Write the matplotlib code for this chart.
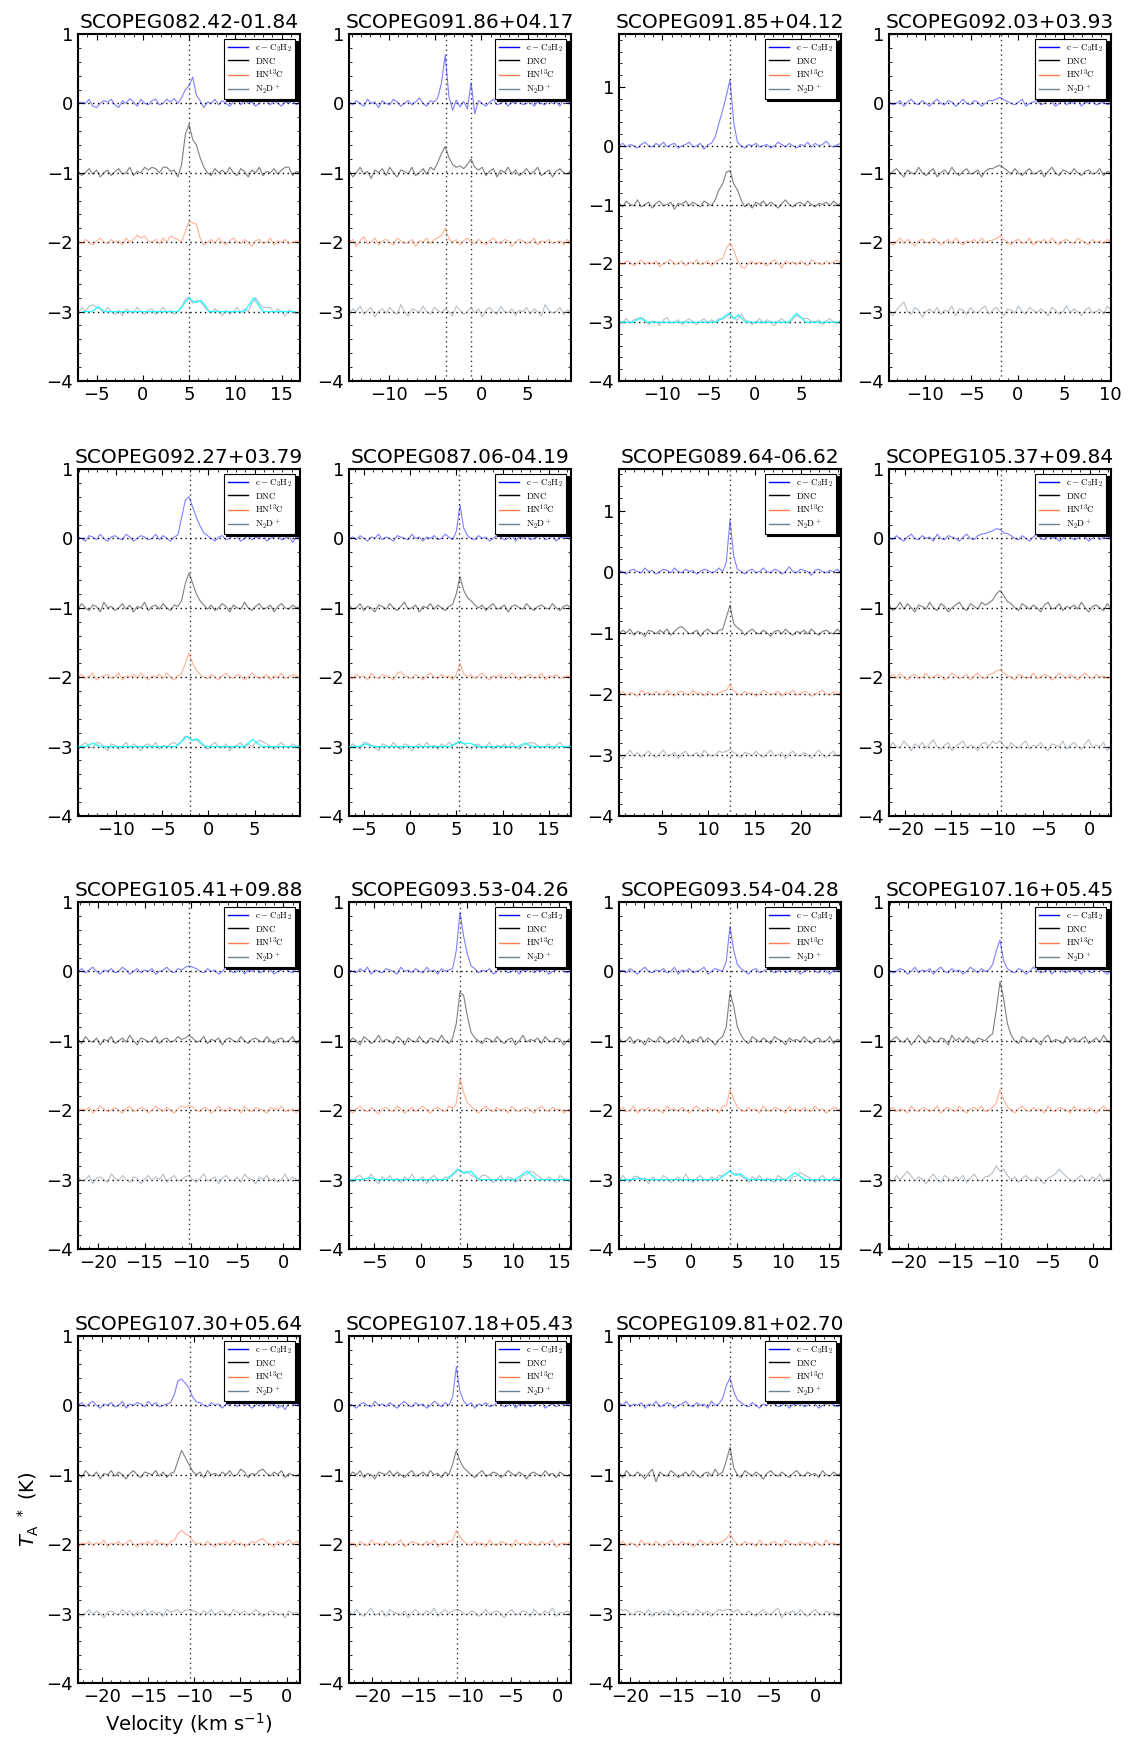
import numpy as np
import matplotlib
matplotlib.use('Agg')
import matplotlib.pyplot as plt
from matplotlib.lines import Line2D
from matplotlib.ticker import MultipleLocator
from matplotlib.font_manager import FontProperties

# sources, in panel order
NAMES = ['SCOPEG082.42-01.84', 'SCOPEG091.86+04.17', 'SCOPEG091.85+04.12', 'SCOPEG092.03+03.93',
         'SCOPEG092.27+03.79', 'SCOPEG087.06-04.19', 'SCOPEG089.64-06.62', 'SCOPEG105.37+09.84',
         'SCOPEG105.41+09.88', 'SCOPEG093.53-04.26', 'SCOPEG093.54-04.28', 'SCOPEG107.16+05.45',
         'SCOPEG107.30+05.64', 'SCOPEG107.18+05.43', 'SCOPEG109.81+02.70']
V_CENTER = [5.0, -2.3, -2.7, -1.9, -2.1, 5.4, 12.35, -9.7,
            -10.2, 4.25, 4.25, -10.1, -10.55, -10.5, -9.2]
V_LINES = [[5.0], [-3.8, -1.1], [-2.7], [-1.8], [-2.0], [5.3], [12.35], [-9.6],
           [-10.2], [4.2], [4.3], [-10.0], [-10.45], [-10.8], [-9.2]]
Y_TOP = [1, 1, 1.9, 1, 1, 1, 1.68, 1, 1, 1, 1, 1, 1, 1, 1]

# spectra in units of 0.01 K, 0.4 km/s channels starting at V_CENTER - 12
P1_CC = [0, 2, 0, 6, -4, -6, 0, 4, 2, 6, -2, -6, 4, 0, 7, 2, -4, 6, 0, -2,
         4, 6, -2, 0, 6, 2, 7, 0, 8, 20, 25, 38, 12, 4, -6, 2, 0, 6, -2, 4,
         0, -4, 2, 6, -2, 4, 0, 2, -4, 0, 6, 2, -2, 4, 0, -4, 2, 0, 4, -2, 2]
P1_DNC = [2, -4, 0, 6, -2, 4, -6, 0, 4, -4, 2, 6, -2, 0, 8, -4, 2, 0, 8, 4,
          8, 6, 0, 8, 8, 2, 4, -6, 12, 55, 70, 48, 40, 22, 8, 0, -4, 6, 0, 4,
          -2, 8, 0, -4, 6, 2, -6, 4, 0, 8, -4, 2, 0, 6, -2, 4, 8, 8, -4, 2, 0]
P1_HN = [0, -2, 4, 0, -4, 2, 6, 0, -2, 4, 0, 2, -4, 6, 0, 4, 10, 6, 9, 2,
         0, 4, -2, 6, 0, 9, 6, 4, 0, 15, 30, 28, 26, 6, -4, 0, 4, -2, 6, 0,
         -4, 2, 6, 0, -2, 4, 0, -6, 2, 4, -2, 0, 6, -4, 2, 0, 4, -2, 0, 2, 0]
P1_ND = [-4, 6, 0, 8, 10, 6, 4, -2, 6, 0, -4, 2, -6, 4, 0, -2, 6, 0, -4, 2,
         4, -4, 0, 6, -2, 2, -4, 0, 6, 18, 20, 12, 16, 15, 8, 2, -2, 4, 0, -6,
         2, -4, 0, 6, -2, 4, 0, 12, 20, 12, 6, 6, 6, -2, 4, 0, -6, 2, 0, -4, 0]

P2_CC = [2, -2, 4, 0, -4, 6, 0, 2, -6, 4, 0, -2, 6, 2, -4, 0, 4, -2, 2, 8,
         0, -4, 4, 2, 8, 30, 70, 10, -10, 5, -5, 3, -8, 30, -15, 4, 0, -4, 2, 6,
         -2, 0, 4, -4, 2, 0, 6, -2, 0, 4, -4, 2, 0, -2, 4, 0, 2, -4, 6, 0, 2]
P2_DNC = [4, -6, 0, 8, -2, 2, -8, 4, 0, 6, -4, 8, 0, -6, 4, 2, -2, 8, -4, 0,
          6, -2, 8, 4, 15, 28, 38, 22, 12, 8, 10, 6, 12, 20, 8, 4, 8, -4, 2, 6,
          -6, 4, 0, 8, -2, 4, -4, 0, 6, -2, 2, 8, -4, 0, 4, -6, 2, 6, 0, -2, 4]
P2_HN = [0, 4, -6, 2, 8, -2, 0, 6, -4, 2, 4, 0, -4, 6, 2, -2, 0, 4, -6, 2,
         0, 6, -2, 4, 6, 10, 20, 5, 0, 4, -4, 2, 6, 0, -2, 4, 0, -4, 2, 6,
         0, -2, 4, 2, -6, 0, 4, 2, -2, 0, 6, -4, 2, 0, 4, -2, 0, 2, -4, 4, 0]
P2_ND = [-6, 4, 0, 8, -4, 2, 6, -8, 0, 4, -2, 6, 0, -4, 10, 0, -6, 4, 2, -2,
         8, 0, -4, 6, 2, -2, 4, 0, -6, 8, 2, -4, 0, 6, -2, 4, -8, 2, 6, 0,
         -4, 8, 0, -2, 4, -6, 2, 0, 6, -4, 4, 0, -6, 10, 2, -2, 0, 6, -4, 2, 0]

P3_CC = [0, 4, -2, 2, 0, -4, 2, 6, 0, -2, 4, 0, 6, -2, 2, 4, -4, 0, 2, 6,
         -2, 0, 4, -6, 2, 4, 15, 38, 60, 85, 112, 40, 6, 0, -4, 2, 0, 4, -2, 0,
         2, -4, 0, 6, 2, -2, 4, 0, -4, 2, 0, 6, -2, 4, 0, 2, 8, 0, -2, 2, 4]
P3_DNC = [2, -4, 6, 0, -2, 8, -4, 0, 4, -6, 2, 6, -2, 0, 4, -8, 2, 0, 6, -2,
          4, 0, -4, 6, 2, -2, 8, 25, 35, 55, 58, 35, 25, 8, -4, 2, -6, 4, 0, 6,
          -2, 4, 0, -6, 2, 8, 0, -4, 2, 4, -2, 6, 0, -4, 2, 0, 4, -2, 6, 0, 2]
P3_HN = [0, -2, 4, 2, -4, 0, 6, -2, 2, 0, 4, -6, 0, 2, 6, -2, 0, 4, -4, 2,
         0, 6, -2, 0, 4, -4, 2, 6, 8, 25, 35, 22, 5, -6, -8, 0, 4, -2, 2, 0,
         -4, 2, 6, 0, -8, 4, 0, 2, -2, 4, 0, -4, 6, 2, 0, -2, 4, 0, 2, 6, 0]
P3_ND = [-4, 0, 6, -2, 4, 6, 8, 4, -4, 2, 0, -6, 4, 8, -2, 0, 4, -4, 2, 6,
         0, -4, 2, 6, -2, 4, 0, 6, 5, 9, 15, 8, 3, 14, 4, 2, -4, 0, 6, -2,
         4, 0, -6, 2, 6, 0, -2, 5, 12, 8, 6, 6, 2, 0, 4, -4, 2, 6, 0, -2, 4]

P4_CC = [2, -2, 0, 4, -4, 2, 6, 0, -2, 4, 0, -4, 2, 6, 0, -2, 4, 2, -4, 0,
         6, 0, -2, 4, 2, -4, 0, 4, 4, 6, 9, 5, 3, 0, -2, 2, 6, -4, 0, 2,
         4, -2, 0, 6, 2, -4, 0, 4, -2, 2, 0, 6, -4, 2, 0, 4, -2, 0, 2, -2, 0]
P4_DNC = [-4, 2, 6, 0, -6, 4, 0, -2, 8, 0, -4, 2, 6, -6, 0, 4, -2, 8, 0, -4,
          2, 6, -2, 0, 4, -6, 2, 6, 6, 9, 11, 7, 3, -2, 6, 0, -4, 2, 6, -2,
          0, 4, -6, 2, 8, 0, -4, 4, 2, -2, 6, 0, -4, 2, 4, -2, 0, 6, -4, 2, 0]
P4_HN = [2, -4, 0, 6, -2, 4, 0, -6, 2, 4, 0, -2, 6, 2, -4, 0, 4, -2, 6, 0,
         -4, 2, 0, 4, -2, 6, 0, 2, 3, 5, 9, 4, 0, -4, 2, 4, -2, 0, 6, -4,
         2, 0, 4, -2, 6, 0, -4, 2, 4, 0, -2, 6, 2, 0, -4, 4, 0, 2, -2, 4, 0]
P4_ND = [4, -6, 2, 8, 14, 0, -4, 6, 2, -8, 0, 4, -2, 6, -4, 2, 0, 8, -6, 4,
         2, -4, 6, 0, -2, 4, 8, -4, 2, 6, 0, -6, 4, 2, -2, 8, 0, -4, 6, 2,
         -2, 4, 0, -6, 6, 2, -4, 0, 8, -2, 4, 0, -6, 2, 6, -2, 0, 4, -4, 8, 2]

P5_CC = [2, 0, -4, 4, 2, -2, 6, 0, -4, 2, 4, 0, -2, 6, 2, -4, 0, 4, 2, -2,
         0, 6, -2, 4, 0, -4, 2, 5, 30, 55, 60, 45, 30, 18, 8, 4, 0, -4, 2, 4,
         -2, 0, 6, 2, -4, 0, 4, -2, 2, 0, 6, -4, 0, 2, 4, -2, 0, 4, -6, 2, 0]
P5_DNC = [-2, 6, 0, -4, 4, 2, -6, 8, 0, 2, -4, 0, 6, -2, 4, -6, 2, 0, 8, -4,
          2, 4, -2, 6, 0, -4, 4, 2, 10, 35, 50, 35, 20, 10, 4, -2, 4, -4, 0, 6,
          2, -6, 4, 0, -2, 8, 0, -4, 2, 6, -2, 0, 4, -6, 2, 6, 0, -2, 4, 0, 2]
P5_HN = [0, 4, -2, 2, 6, -4, 0, 2, 4, -2, 0, 6, -4, 2, 0, 4, -2, 6, 0, -4,
         2, 0, 4, -2, 6, 0, -4, 2, 5, 20, 35, 20, 10, 4, 0, -2, 4, 0, -4, 2,
         6, 0, -2, 4, 2, -4, 0, 6, 2, -2, 0, 4, -4, 2, 0, 6, -2, 0, 4, 2, -2]
P5_ND = [-4, 2, 6, 0, -2, 6, 5, 0, -6, 4, 2, -4, 0, 6, -2, 4, 0, -6, 2, 4,
         0, 6, -4, 2, 0, 4, 6, 2, 8, 15, 12, 9, 10, 5, 0, -4, 2, 6, 0, -2,
         4, -6, 0, 2, 6, -2, 4, 0, 6, 9, 7, 4, 0, -4, 2, 6, 0, -2, 4, 0, 2]

P6_CC = [0, 2, -2, 4, 0, -4, 2, 0, 6, -2, 2, 0, -4, 4, 2, 0, -2, 6, 0, 2,
         -4, 2, 0, 4, -2, 0, 6, 2, -2, 10, 48, 15, 4, 0, -2, 4, 0, 2, -4, 0,
         4, 2, -2, 0, 6, -4, 2, 0, 4, -2, 0, 2, 6, -2, 0, 4, -4, 2, 0, 2, -2]
P6_DNC = [4, -2, 0, 6, -4, 2, 0, -6, 4, 2, -2, 6, 0, -4, 2, 8, -2, 0, 4, -6,
          2, 0, 6, -2, 4, 0, -4, 2, 5, 20, 45, 25, 15, 10, 4, 0, 4, -4, 2, 6,
          -2, 0, 4, -6, 2, 4, 0, -2, 6, 0, -4, 2, 4, 0, -2, 6, 0, -4, 2, 4, 0]
P6_HN = [0, -2, 4, 0, 2, -4, 6, 0, -2, 4, 2, 0, -4, 6, 8, 2, 0, -2, 4, 0,
         -4, 2, 6, 0, -2, 4, 0, 2, -4, 4, 20, 5, 0, 4, -2, 2, 6, 0, -4, 2,
         0, 4, -2, 0, 6, 2, -4, 0, 2, 4, -2, 0, 6, -4, 2, 0, 4, -2, 0, 2, 0]
P6_ND = [-2, 4, 0, -4, 6, 5, 2, 0, -6, 4, 2, -2, 6, 0, -4, 4, 2, -6, 0, 4,
         -2, 6, 0, 2, -4, 4, 0, 6, 2, 5, 8, 4, 0, -4, 2, 4, -2, 0, 6, -4,
         2, 0, 4, -2, 6, 0, -4, 2, 4, 6, 5, 2, -2, 0, 4, -4, 2, 6, 0, -2, 4]

P7_CC = [2, 0, -4, 2, 4, 0, -2, 6, 0, 2, -4, 0, 4, 2, -2, 6, 0, -2, 4, 0,
         2, -4, 0, 4, 2, -2, 0, 6, 0, 15, 85, 25, 4, 0, -4, 2, 4, -2, 0, 6,
         0, -2, 4, 2, -4, 0, 8, 0, -2, 4, 2, 0, -6, 2, 4, 0, -2, 2, 0, 4, -2]
P7_DNC = [-2, 4, 0, 6, -4, 2, 0, -6, 4, 2, -2, 4, 0, 6, -4, 2, 8, 10, 4, -2,
          0, 4, -6, 2, 6, 0, -2, 4, 5, 25, 45, 15, 8, 4, -4, 2, 6, 0, -2, 4,
          0, -6, 2, 4, -2, 6, 0, -4, 2, 0, 4, -2, 6, 0, -4, 2, 4, 0, -2, 6, 0]
P7_HN = [0, 4, -2, 2, 0, -4, 6, 0, 2, -2, 4, 0, -2, 6, 0, -4, 2, 4, 0, -2,
         6, 0, 2, -4, 4, 0, -2, 2, 4, 6, 15, 5, 0, -2, 4, 0, 2, -4, 0, 6,
         2, -2, 0, 4, -4, 2, 0, 6, -2, 0, 4, 2, -4, 0, 2, 6, 0, -2, 4, 0, 2]
P7_ND = [4, -6, 0, 8, -2, 4, -4, 2, 6, 0, -4, 2, 8, -2, 0, 4, -6, 2, 6, -2,
         0, 4, -4, 8, 2, -2, 0, 6, 4, 6, 9, 4, 0, -4, 4, 2, -2, 6, 0, -4,
         2, 8, -2, 0, 4, -6, 2, 6, 0, -2, 4, 0, -6, 2, 8, 0, -4, 2, 6, -2, 0]

P8_CC = [2, -2, 4, 0, -4, 2, 6, 0, -2, 4, 0, 2, -4, 6, 0, -2, 4, 2, 0, -4,
         2, 6, 0, -2, 4, 6, 7, 9, 11, 14, 13, 8, 7, 4, 0, -2, 4, 0, -4, 2,
         6, 0, -2, 4, 0, 2, -4, 0, 6, 2, -2, 0, 4, 2, -4, 0, 6, -2, 2, 0, 4]
P8_DNC = [4, -4, 0, 8, -2, 6, 0, -6, 4, 2, -2, 8, 0, -4, 6, 2, -6, 0, 4, 8,
          0, -4, 6, 2, -2, 8, 4, 7, 11, 20, 25, 18, 9, 6, 0, -4, 6, 2, -2, 4,
          0, -6, 4, 8, -2, 0, 6, -4, 2, 0, 4, -2, 8, 0, -6, 2, 4, 0, -4, 6, 0]
P8_HN = [0, 4, -2, 6, 0, -4, 2, 4, -2, 0, 6, -2, 0, 4, 2, -4, 0, 6, 2, -2,
         0, 4, -4, 2, 6, 0, -2, 4, 5, 9, 11, 6, 2, 0, -4, 4, 2, -2, 0, 6,
         -2, 0, 4, 2, -4, 0, 6, 2, -2, 4, 0, -4, 2, 6, 0, -2, 4, 0, 2, -2, 0]
P8_ND = [-4, 6, 0, -2, 8, 2, -6, 4, 0, 6, -2, 4, 10, 0, -4, 2, 6, -6, 0, 4,
         8, -2, 2, 0, -6, 4, 6, 0, 8, 4, 9, 2, -4, 6, 0, -2, 4, 8, -4, 2,
         0, 6, -2, -6, 4, 2, 0, 8, -4, 2, 6, 0, -4, 4, 10, -2, 2, 0, 6, -6, 2]

P9_CC = [0, 4, -2, 2, 6, 0, -4, 2, 0, 4, -2, 0, 6, 2, -4, 0, 4, -2, 2, 0,
         4, -4, 0, 2, 6, 0, -2, 4, 2, 6, 8, 6, 4, 0, -2, 4, 0, 2, -4, 0,
         6, 2, -2, 0, 4, -4, 2, 0, 6, -2, 0, 4, 2, -4, 0, 2, 6, 0, -2, 4, 0]
P9_DNC = [2, -4, 6, 0, -2, 4, -6, 2, 0, 6, -4, 0, 4, -2, 8, 0, -6, 4, 2, -2,
          0, 6, -4, 2, 4, -2, 0, 6, 2, 4, 8, 4, -2, 0, 6, -4, 2, 0, 4, -6,
          2, 4, 0, -2, 6, 0, -4, 2, 4, 0, -2, 6, 0, -4, 2, 4, -2, 0, 6, -4, 2]
P9_HN = [-2, 2, 0, 4, -4, 0, 6, 2, -2, 0, 4, 0, -4, 2, 6, -2, 0, 4, 2, -4,
         0, 6, 2, -2, 4, 0, -4, 2, 6, 4, 7, 5, 0, -2, 4, 2, -4, 0, 6, 0,
         -2, 4, 0, 2, -4, 6, 0, -2, 4, 2, 0, -4, 4, 2, 0, 6, -2, 0, 2, -4, 4]
P9_ND = [4, -2, 0, 6, -6, 2, 4, 0, -4, 8, 2, -2, 6, 0, -4, 4, 2, -6, 0, 6,
         -2, 4, 0, 8, -4, 2, 6, -2, 0, 4, 6, 0, -4, 2, 8, -2, 0, 4, -6, 2,
         6, 0, -2, 4, -4, 8, 2, 0, -6, 4, 0, 6, -2, 2, -4, 0, 8, -2, 4, 0, -4]

P10_CC = [2, 0, -2, 4, 0, 6, -4, 2, 0, -2, 4, 2, 0, -4, 6, 0, 2, -2, 4, 0,
          -2, 6, 0, 2, -4, 4, 0, 2, 4, 30, 85, 50, 25, 8, 4, -2, 2, 0, 4, -4,
          0, 6, 2, -2, 0, 4, -4, 2, 0, 6, -2, 2, 0, 4, -4, 0, 2, 6, 0, -2, 2]
P10_DNC = [-2, 4, 0, -6, 6, 2, -4, 0, 8, -2, 2, 0, -4, 6, 2, -6, 4, 0, -2, 6,
           0, -4, 4, 2, -2, 8, 0, -4, 4, 25, 70, 65, 35, 12, 4, 0, -4, 4, 2, -2,
           6, 0, -4, 2, 4, -6, 0, 8, -2, 2, 0, 4, -4, 6, 0, -2, 4, 2, -6, 0, 4]
P10_HN = [0, -4, 2, 6, 0, -2, 4, 0, -6, 2, 4, 0, -2, 6, 2, -4, 0, 4, -2, 2,
          6, 0, -4, 2, 4, 0, -2, 6, 2, 10, 45, 25, 10, 6, 0, -4, 2, 6, 0, -2,
          4, 0, 2, -4, 6, 0, -2, 2, 4, 0, -4, 2, 6, 0, -2, 4, 0, 2, -4, 0, 2]
P10_ND = [2, -4, 4, 6, 0, -2, 8, 0, -6, 4, 0, 6, -2, 2, -4, 4, 0, 8, -2, 0,
          4, -6, 2, 6, 0, -2, 4, 2, 6, 12, 14, 10, 12, 6, 4, 0, 6, 6, 2, -4,
          0, 6, -2, 4, 2, -4, 0, 6, 7, 12, 10, 6, 2, -2, 4, 0, -4, 6, 2, 0, -2]

P11_CC = [0, 2, -2, 4, 0, -4, 2, 6, 0, -2, 2, 0, 4, -2, 0, 6, -4, 2, 0, 4,
          -2, 0, 2, 6, -4, 0, 4, 2, 0, 15, 65, 30, 10, 4, 0, -4, 2, 4, -2, 0,
          4, 2, -2, 0, 6, -2, 0, 4, 2, -4, 0, 2, 6, 0, -2, 4, 0, -4, 2, 0, 4]
P11_DNC = [4, -2, 0, 6, -4, 2, 0, -6, 4, 0, -2, 6, 2, -4, 0, 4, -2, 8, 0, -4,
           2, 0, 6, -2, 4, 0, -6, 2, 6, 20, 70, 50, 20, 8, 0, -4, 6, 2, -2, 4,
           0, -4, 6, 2, 0, -6, 4, 0, 2, -2, 6, 0, -4, 2, 4, -2, 0, 6, -4, 2, 0]
P11_HN = [0, 4, -2, 0, 6, -4, 2, 0, 4, -2, 2, 0, -4, 6, 0, 2, -2, 4, 0, -4,
          2, 6, 0, -2, 4, 0, 2, -4, 6, 6, 30, 15, 5, 0, -2, 4, 0, 2, -4, 6,
          0, -2, 4, 2, 0, -4, 6, 0, 2, -2, 4, 0, -2, 6, 0, 2, -4, 0, 4, 2, 0]
P11_ND = [-2, 6, 0, -4, 4, 5, 0, 2, -6, 4, 0, -2, 6, 2, -4, 0, 4, -2, 8, 0,
          -4, 2, 6, 0, -2, 4, 0, 6, 5, 9, 12, 8, 9, 5, 2, -4, 4, 0, 6, -2,
          2, 0, -4, 6, 2, 0, -2, 4, 5, 10, 7, 4, 0, -4, 2, 6, 0, -2, 4, 0, 2]

P12_CC = [2, -2, 0, 4, 2, -4, 0, 6, -2, 2, 0, 4, -4, 2, 6, 0, -2, 4, 0, 2,
          -4, 0, 6, 2, -2, 4, 0, 2, 10, 30, 45, 15, 4, 0, -2, 4, 2, -4, 0, 6,
          2, -2, 0, 4, -4, 2, 6, 0, -2, 4, 0, 2, -4, 6, 0, -2, 4, 2, 0, -4, 2]
P12_DNC = [-4, 2, 6, 0, -2, 4, -6, 0, 8, 2, -4, 6, 0, -2, 4, 2, -6, 8, 0, 4,
           -2, 6, 0, -4, 4, 2, 0, 6, 10, 45, 85, 60, 25, 8, 0, -4, 6, 2, -2, 4,
           0, -6, 4, 8, -2, 2, 0, -4, 6, 0, 4, -2, 2, 6, -4, 0, 4, -2, 8, 0, -4]
P12_HN = [0, 4, -2, 2, 0, -4, 6, 0, -2, 4, 2, -2, 0, 6, -4, 2, 4, 0, -2, 6,
          0, -4, 2, 4, 0, 6, -2, 0, 4, 10, 30, 15, 5, 0, -4, 2, 6, 0, -2, 4,
          0, 2, -4, 6, 0, -2, 4, 2, 0, -4, 6, 0, 2, -2, 4, 0, -4, 2, 6, 0, -2]
P12_ND = [2, -4, 6, 0, 6, 12, 5, -2, 4, 0, -6, 2, 8, 0, -4, 6, 2, -2, 4, 0,
          6, -4, 2, 8, 0, -2, 4, 5, 10, 20, 12, 15, 6, 0, 4, -4, 2, 6, 0, -2,
          4, 0, -6, 2, 5, 8, 15, 9, 4, 0, -4, 2, 6, 0, -2, 4, 0, 8, -4, 2, 0]

P13_CC = [0, 4, -2, 2, 6, 0, -4, 2, 0, 4, -2, 0, 6, -4, 2, 0, 4, 2, -2, 6,
          0, 4, -2, 0, 2, 4, 15, 35, 38, 32, 25, 12, 5, 4, 0, -2, 4, 0, 2, -4,
          2, 0, 6, -2, 4, 0, 2, -4, 0, 4, -2, 6, 0, 2, -4, 0, -6, 4, 2, 0, 2]
P13_DNC = [2, -4, 6, 0, -2, 4, -6, 2, 0, 6, -2, 4, 0, -6, 2, 6, 0, -4, 4, 2,
           0, 6, -2, 4, -4, 2, 4, 20, 35, 25, 15, 5, 0, 4, -4, 6, 0, 2, -2, 4,
           0, 6, -2, 0, 8, 4, -4, 2, 0, 6, 8, 2, -2, 4, 0, 6, -4, 2, 0, -2, 2]
P13_HN = [-6, 2, 0, 4, -2, 2, 0, 6, -4, 2, 0, 4, -2, 2, 6, 0, -4, 2, 0, 4,
          -2, 6, 0, 2, -4, 4, 5, 15, 20, 15, 12, 5, 0, 2, -2, 4, 0, -4, 2, 0,
          4, -2, 6, 0, 2, -4, 0, 4, 2, 6, 8, 2, 0, -4, 4, 0, 2, 6, 0, 4, 2]
P13_ND = [2, -4, 0, 6, -2, 4, 0, -6, 2, 4, 0, -2, 6, 0, 4, -4, 2, 0, 6, -2,
          4, 0, 2, -4, 6, 2, 4, 6, 0, 5, 6, 4, 2, -2, 4, 0, 6, -2, 2, 4,
          0, -4, 6, 2, 0, 4, -2, 0, 6, 2, -4, 0, 4, 2, -2, 0, -6, 4, 0, 2, -2]

P14_CC = [2, 0, -4, 2, 4, 0, -2, 6, 0, 2, -2, 4, 0, -4, 2, 6, 0, -2, 4, 0,
          2, -4, 0, 6, 2, -2, 4, 0, 12, 55, 20, 6, 0, 4, -4, 2, 0, 4, -2, 0,
          4, 2, -2, 0, 6, -4, 2, 0, 4, -2, 0, 2, 6, -4, 0, 2, -2, 4, 0, 2, -2]
P14_DNC = [-2, 4, 0, 6, -4, 2, 0, -6, 4, 2, 0, 6, -2, 4, 0, -4, 2, 6, -2, 0,
           4, -2, 6, 0, 2, -4, 4, 0, 15, 35, 20, 10, 5, 0, -4, 2, 6, -2, 0, 4,
           2, -4, 0, 6, 2, -2, 4, 0, -6, 2, 4, 0, -2, 6, 0, 2, -4, 4, 0, -2, 2]
P14_HN = [0, 2, -4, 4, 0, -2, 6, 0, 2, -2, 4, 0, -2, 2, 6, -4, 0, 4, 2, 0,
          -2, 4, 0, 6, -4, 2, 0, 4, 5, 20, 10, 4, 0, -2, 4, 0, 2, -4, 6, 0,
          -2, 4, 2, 0, -4, 6, 0, 2, -2, 4, 0, -2, 4, 0, 2, 6, -4, 0, 2, 0, 4]
P14_ND = [4, -2, 6, 0, -4, 2, 8, -2, 0, 4, -4, 6, 2, 0, -2, 4, -6, 2, 6, 0,
          -2, 4, 0, 8, -4, 2, 6, 0, 4, 6, 5, 0, -2, 4, 2, -4, 0, 6, -2, 2,
          4, 0, -6, 2, 6, -2, 0, 4, 2, -4, 6, 0, -2, 4, 0, 8, -4, 2, 0, 4, -2]

P15_CC = [4, 0, 6, -2, 2, 0, 4, -4, 2, 0, 6, -2, 0, 4, 2, -4, 0, 2, 6, 0,
          -2, 4, 0, 2, -4, 6, 0, 2, 10, 28, 40, 20, 8, 4, 0, -2, 4, 0, -4, 2,
          0, 6, 2, -2, 0, 4, -4, 2, 0, 4, -2, 0, 6, 2, -4, 0, 2, 4, 0, -2, 2]
P15_DNC = [2, -4, 6, 0, -2, 4, 0, -6, 2, 8, -10, 4, 0, -2, 6, 2, -4, 0, 4, -2,
           6, 0, -4, 2, 4, -2, 8, 0, 4, 20, 40, 10, 0, -4, 6, 2, -2, 4, 0, -6,
           2, 6, 0, -2, 4, 0, -4, 2, 6, 0, -2, 4, 0, 2, -4, 6, 0, -2, 4, 0, 2]
P15_HN = [0, 4, -2, 2, 0, -4, 6, 0, 2, -2, 4, 0, -4, 2, 6, 0, -2, 4, 0, 2,
          -4, 0, 6, 2, -2, 4, 0, 2, 4, 8, 15, 5, 0, -2, 4, 0, 2, -4, 6, 0,
          -2, 2, 4, 0, -4, 6, 2, 0, -2, 4, 0, 2, -4, 4, 0, -2, 6, 0, 2, -2, 0]
P15_ND = [8, 4, 6, 0, -2, 4, 2, 0, 6, -4, 2, 0, 4, -2, 6, 0, -4, 2, 4, 0,
          -2, 6, 2, 0, 4, -4, 2, 6, 4, 6, 6, 2, 6, 0, -2, 4, 0, -4, 2, 6,
          0, -2, 4, 8, -6, 2, 0, 4, -2, 6, 0, -4, 2, 6, 0, -2, 4, 0, 2, -4, 0]

# N2D+ hyperfine fits (velocity in km/s, T in K above the -3 baseline)
P1_FIT_V = [-6.5, -5.5, -4.8, -4.2, 3.8, 5.0, 5.6, 6.3, 7.2, 11.0, 12.0, 13.0, 16.5]
P1_FIT_T = [0, 0, 0.07, 0, 0, 0.2, 0.13, 0.16, 0, 0, 0.2, 0, 0]
P3_FIT_V = [-14.5, -13.2, -12.4, -11.6, -4.2, -2.8, -2.3, -1.8, -1.0, 3.6, 4.5, 5.5, 9.0]
P3_FIT_T = [0, 0, 0.07, 0, 0, 0.15, 0.06, 0.12, 0, 0, 0.15, 0, 0]
P5_FIT_V = [-14.0, -13.3, -12.5, -11.7, -3.5, -2.3, -1.8, -1.2, -0.3, 3.8, 4.8, 5.8, 9.8]
P5_FIT_T = [0, 0, 0.05, 0, 0, 0.15, 0.09, 0.11, 0, 0, 0.1, 0, 0]
P6_FIT_V = [-6.5, -5.6, -4.8, -4.0, 4.3, 5.3, 5.9, 6.5, 7.3, 11.7, 12.4, 13.2, 17.3]
P6_FIT_T = [0, 0, 0.04, 0, 0, 0.07, 0.04, 0.05, 0, 0, 0.05, 0, 0]
P10_FIT_V = [-7.6, -6.3, -5.5, -4.7, 2.8, 4.0, 4.7, 5.4, 6.3, 10.2, 11.5, 12.6, 16.1]
P10_FIT_T = [0, 0, 0.03, 0, 0, 0.15, 0.09, 0.12, 0, 0, 0.12, 0, 0]
P11_FIT_V = [-7.6, -6.4, -5.6, -4.8, 3.0, 4.2, 4.8, 5.4, 6.2, 10.3, 11.3, 12.3, 16.1]
P11_FIT_T = [0, 0, 0.02, 0, 0, 0.12, 0.06, 0.08, 0, 0, 0.1, 0, 0]

SPECTRA = [
    (P1_CC, P1_DNC, P1_HN, P1_ND), (P2_CC, P2_DNC, P2_HN, P2_ND),
    (P3_CC, P3_DNC, P3_HN, P3_ND), (P4_CC, P4_DNC, P4_HN, P4_ND),
    (P5_CC, P5_DNC, P5_HN, P5_ND), (P6_CC, P6_DNC, P6_HN, P6_ND),
    (P7_CC, P7_DNC, P7_HN, P7_ND), (P8_CC, P8_DNC, P8_HN, P8_ND),
    (P9_CC, P9_DNC, P9_HN, P9_ND), (P10_CC, P10_DNC, P10_HN, P10_ND),
    (P11_CC, P11_DNC, P11_HN, P11_ND), (P12_CC, P12_DNC, P12_HN, P12_ND),
    (P13_CC, P13_DNC, P13_HN, P13_ND), (P14_CC, P14_DNC, P14_HN, P14_ND),
    (P15_CC, P15_DNC, P15_HN, P15_ND),
]
FITS = {0: (P1_FIT_V, P1_FIT_T), 2: (P3_FIT_V, P3_FIT_T), 4: (P5_FIT_V, P5_FIT_T),
        5: (P6_FIT_V, P6_FIT_T), 9: (P10_FIT_V, P10_FIT_T), 10: (P11_FIT_V, P11_FIT_T)}

CHAN = 0.4
OFFSETS = [0, -1, -2, -3]
COLORS = ['blue', 'black', 'coral', 'slategray']
ALPHAS = [0.5, 0.5, 0.6, 0.5]
LABELS = [r'$\mathrm{c-C_3H_2}$', r'$\mathrm{DNC}$', r'$\mathrm{HN^{13}C}$', r'$\mathrm{N_2D^+}$']

W, H = 1128., 1741.
COL_X = [78, 349, 619, 889]
ROW_Y = [34, 469, 902, 1336]
AW, AH = 222, 347

fig = plt.figure(figsize=(W / 100, H / 100), dpi=100)
leg_font = FontProperties(size=6.5, math_fontfamily='cm')

for k, name in enumerate(NAMES):
    r, c = divmod(k, 4)
    ax = fig.add_axes([COL_X[c] / W, 1 - (ROW_Y[r] + AH) / H, AW / W, AH / H])
    lo = V_CENTER[k] - 12

    for y in OFFSETS:
        ax.axhline(y, color='k', ls=(0, (1, 2.5)), lw=1.0, zorder=1)
    for vl in V_LINES[k]:
        ax.axvline(vl, color='k', ls=(0, (1, 2.5)), lw=1.0, alpha=0.8, zorder=1)

    for j, spec in enumerate(SPECTRA[k]):
        t = np.array(spec) / 100. + OFFSETS[j]
        v = lo + CHAN * np.arange(len(t))
        ax.plot(v, t, color=COLORS[j], alpha=ALPHAS[j], lw=0.8, zorder=2)
    if k in FITS:
        fv, ft = FITS[k]
        ax.plot(fv, np.array(ft) - 3, color='cyan', alpha=0.8, lw=1.0, zorder=3)

    ax.set_xlim(lo, lo + 24)
    ax.set_ylim(-4, Y_TOP[k])
    ax.xaxis.set_major_locator(MultipleLocator(5))
    ax.xaxis.set_minor_locator(MultipleLocator(1))
    ax.yaxis.set_major_locator(MultipleLocator(1))
    ax.yaxis.set_minor_locator(MultipleLocator(0.2))
    ax.tick_params(which='both', direction='in', top=True, right=True, labelsize=13)
    ax.tick_params(which='major', length=4, width=0.8)
    ax.tick_params(which='minor', length=2, width=0.6)
    for s in ax.spines.values():
        s.set_linewidth(1.5)
    ax.set_title(name, fontsize=14.5, pad=4)

    handles = [Line2D([0], [0], color=col, lw=1) for col in COLORS]
    leg = ax.legend(handles, LABELS, loc='upper right', prop=leg_font, fancybox=False,
                    shadow={'color': 'k', 'alpha': 1, 'ox': 1.5, 'oy': -1.5},
                    framealpha=1, edgecolor='k',
                    handlelength=2.2, labelspacing=0.2, borderpad=0.4, borderaxespad=0.5)
    leg.get_frame().set_linewidth(0.8)

    if k == 12:
        ax.set_ylabel(r'$T_{\rm A}$ $^*$ (K)', fontsize=14)
        ax.set_xlabel(r'Velocity (km s$^{-1}$)', fontsize=14)

fig.savefig('out.png', dpi=100)
